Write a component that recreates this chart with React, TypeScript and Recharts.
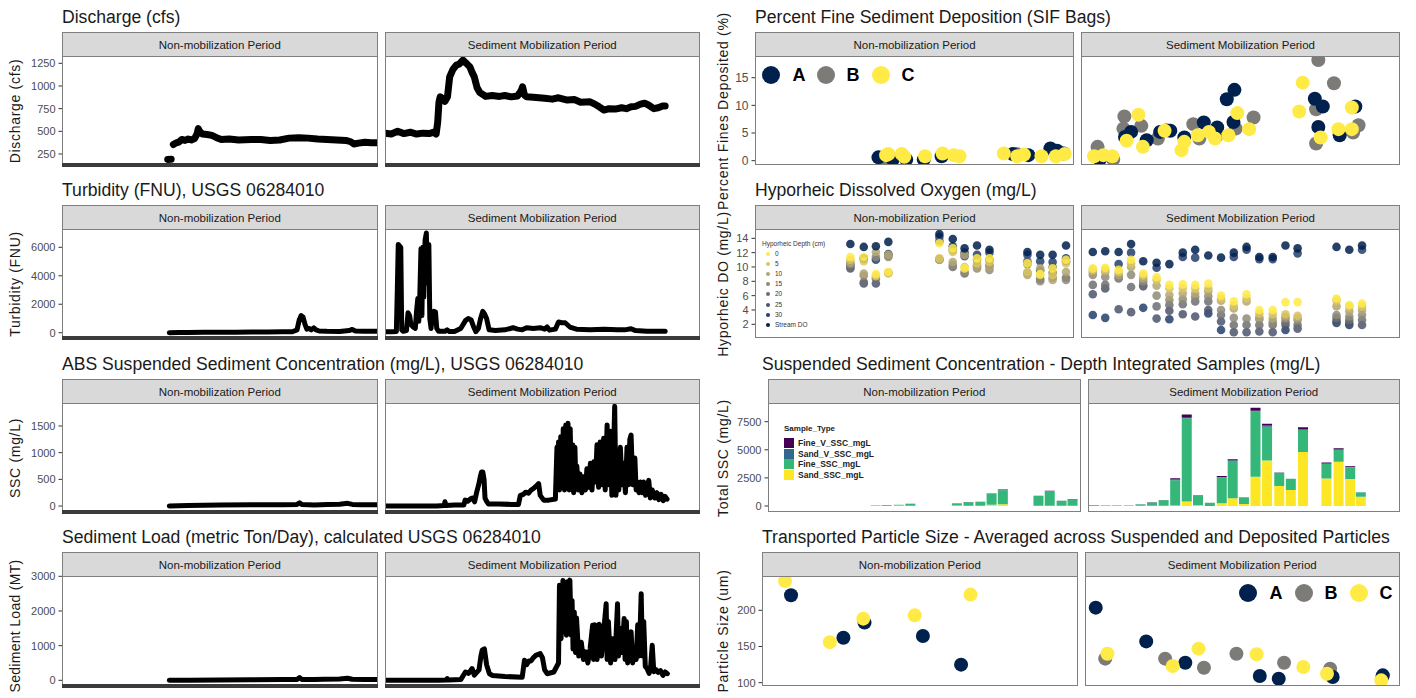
import type { ReactNode } from 'react';
import { ComposedChart, Line, Scatter, Bar, XAxis, YAxis } from 'recharts';

const FONT = '"Liberation Sans", Arial, Helvetica, sans-serif';
const NAVY = '#00204D';
const GREY = '#7C7B78';
const YELLOW = '#FFEA46';
const BORDER = '#7f7f7f';
const TICK = '#4d4d4d';

const facetLabels = ['Non-mobilization Period', 'Sediment Mobilization Period'];
const siteLabels = ['A', 'B', 'C'];
const siteColors = [NAVY, GREY, YELLOW];

// x = % of the way through each period, y = value

// Discharge (cfs)
const dischargeNonEarly = [[33.5, 190], [34.6, 192]];
const dischargeNon = [
  [35.3, 355], [36.0, 370], [37.0, 380], [38, 410], [39, 400], [40, 415], [41, 405], [42, 420], [42.8, 470],
  [43.2, 530], [43.6, 500], [44.5, 470], [46, 465], [47.5, 455], [49, 430], [50.5, 410], [53, 415], [56, 405],
  [60, 410], [63, 410], [66, 400], [69, 405], [72, 425], [75, 430], [78, 425], [81, 415], [84, 410], [87, 405],
  [90, 400], [91.5, 385], [92.5, 360], [94, 370], [96, 380], [98, 375], [100, 375],
];
const dischargeMob = [
  [0, 480], [2, 470], [4, 500], [6, 475], [8, 490], [10, 470], [12, 480], [14, 475], [15.5, 490], [16.2, 470],
  [16.7, 600], [17.1, 820], [17.5, 880], [18.3, 860], [19, 830], [19.8, 880], [20.5, 1100], [21.5, 1180],
  [22.6, 1230], [23.5, 1240], [24.7, 1285], [25.8, 1250], [26.9, 1210], [27.6, 1150], [28.3, 1100], [29.2, 980],
  [30, 930], [31.9, 885], [34, 895], [36.3, 885], [38, 895], [40, 880], [42, 890], [43.2, 950], [43.6, 990],
  [44.2, 900], [44.9, 880], [47, 875], [50.6, 865], [53, 855], [55, 870], [57.8, 845], [60, 850], [62, 820],
  [65, 825], [66.5, 800], [67.9, 770], [69.4, 735], [71, 750], [73, 745], [75, 760], [76.5, 750], [78, 770],
  [79.4, 775], [81, 800], [82.3, 810], [83.5, 790], [85.2, 750], [86.6, 760], [88, 780], [88.8, 780],
];

// Turbidity (FNU)
const turbNon = [
  [34, 0], [37, 10], [40, 20], [45, 30], [50, 35], [55, 40], [60, 50], [65, 50], [70, 60], [73, 70], [74.5, 200],
  [75.2, 900], [75.8, 1200], [76.4, 1100], [77, 600], [77.6, 250], [78.3, 300], [79, 200], [79.8, 340],
  [80.5, 200], [81.5, 120], [84, 100], [88, 90], [91, 150], [92, 230], [93, 120], [96, 110], [100, 100],
];
const turbMob = [
  [0, 60], [2, 60], [3.6, 80], [3.9, 3000], [4.2, 6200], [4.6, 6100], [5.0, 6000], [5.3, 200], [5.8, 100],
  [6.8, 150], [7.3, 1400], [7.8, 1200], [8.2, 600], [8.9, 400], [9.6, 300], [10.0, 1500], [10.4, 2400],
  [10.7, 800], [11.0, 2300], [11.4, 5900], [11.7, 1200], [12.0, 6000], [12.3, 2500], [12.7, 6500], [13.1, 7000],
  [13.5, 3500], [13.9, 6200], [14.2, 1000], [14.6, 300], [15.0, 1300], [15.5, 1500], [16.0, 1450], [16.4, 300],
  [17.0, 100], [19.0, 100], [19.7, 200], [20.4, 80], [22, 80], [24, 300], [25.5, 850], [26.4, 1000],
  [27.3, 900], [28.1, 400], [28.8, 80], [29.6, 300], [30.3, 1000], [31.0, 1500], [31.6, 1300], [32.2, 1000],
  [33.0, 200], [35, 150], [38, 200], [40.6, 350], [42, 250], [43.5, 200], [44.9, 350], [47, 300], [49.2, 350],
  [50.6, 250], [51.4, 400], [52.1, 180], [54, 250], [55, 750], [56, 700], [57.1, 700], [58.6, 400], [60.7, 250],
  [65, 200], [69.4, 250], [73.7, 200], [76, 200], [78, 280], [79.4, 150], [83, 100], [88.8, 100],
];

// ABS SSC (mg/L)
const sscNon = [
  [34, 0], [40, 10], [50, 20], [60, 25], [70, 25], [74.5, 30], [75.3, 60], [76, 30], [80, 20], [84, 30],
  [88, 35], [90.5, 50], [92, 30], [95, 25], [100, 25],
];
const sscMob = [
  [0, 0], [10, 0], [16.4, 0], [18.8, 10], [19.0, 80], [19.3, 10], [22, 20], [25.0, 20], [25.4, 110], [26.2, 90],
  [27.0, 130], [27.7, 150], [28.4, 80], [29.1, 270], [29.7, 400], [30.2, 550], [30.6, 640], [31.0, 640],
  [31.4, 500], [31.7, 150], [32.3, 80], [32.8, 40], [36, 40], [40, 30], [42.3, 30], [42.9, 200], [43.9, 220],
  [44.6, 260], [45.5, 240], [46.3, 300], [47.1, 330], [48.0, 380], [48.7, 420], [49.2, 200], [50.3, 110],
  [51.9, 110], [54.0, 130], [54.5, 1100], [54.8, 400], [55.0, 1200], [55.3, 300], [55.7, 1300], [56.1, 350],
  [56.5, 1450], [56.9, 300], [57.3, 1520], [57.7, 400], [58.0, 1550], [58.4, 300], [58.7, 1450], [59.1, 350],
  [59.5, 1150], [59.8, 250], [60.2, 1100], [60.5, 350], [60.8, 750], [61.3, 300], [61.8, 600], [62.4, 250],
  [63.0, 550], [63.5, 300], [64.0, 700], [64.6, 350], [65.1, 800], [65.6, 300], [66.2, 830], [66.7, 450],
  [67.2, 1150], [67.7, 350], [68.2, 1200], [68.8, 400], [69.3, 1270], [69.8, 300], [70.4, 1520], [70.9, 400],
  [71.4, 1400], [71.9, 200], [72.4, 900], [72.8, 1870], [73.2, 200], [73.6, 700], [74.1, 300], [74.6, 1100],
  [75.1, 400], [75.6, 800], [76.2, 250], [76.7, 1100], [77.2, 400], [77.6, 1250], [78.0, 1330], [78.5, 400],
  [79.2, 900], [79.6, 300], [79.9, 450], [80.5, 250], [81.0, 450], [81.5, 250], [82.0, 450], [82.6, 200],
  [83.1, 350], [83.6, 480], [84.1, 150], [84.7, 300], [85.5, 150], [86.2, 250], [86.8, 120], [87.5, 220],
  [88.2, 100], [88.8, 180], [89.4, 130],
];

// Sediment load (metric ton/day)
const loadNon = [
  [34, 0], [40, 5], [50, 10], [60, 15], [70, 20], [74.5, 25], [75.3, 80], [76, 25], [80, 20], [83, 30],
  [88, 35], [90.5, 60], [92, 30], [96, 25], [100, 25],
];
const loadMob = [
  [0, 0], [10, 0], [16.8, 0], [19.5, 10], [19.7, 50], [20, 10], [24, 20], [25.5, 240], [26.5, 200], [27.6, 340],
  [28.3, 150], [29.8, 300], [30.4, 700], [30.8, 870], [31.5, 910], [32.2, 450], [33.1, 190], [34.1, 140],
  [38, 110], [43.5, 90], [44.2, 580], [44.9, 450], [45.6, 560], [46.3, 560], [47.0, 650], [47.8, 720],
  [49.2, 770], [49.9, 650], [50.6, 300], [51.4, 190], [53.5, 240], [55.0, 500], [55.3, 2740], [55.8, 1200],
  [56.4, 2880], [56.8, 1400], [57.1, 2600], [57.5, 1300], [57.8, 2840], [58.2, 1500], [58.6, 2890], [59.0, 1300],
  [59.3, 2300], [59.6, 900], [60.0, 1970], [60.4, 800], [60.7, 1800], [61.4, 700], [62.2, 1100], [62.9, 600],
  [63.6, 820], [64.3, 500], [65.0, 900], [65.8, 1590], [66.1, 600], [66.5, 1600], [67.2, 600], [67.9, 1620],
  [68.6, 700], [69.4, 1500], [70.1, 2210], [70.4, 600], [70.8, 1700], [71.5, 500], [72.2, 1200], [72.9, 600],
  [73.7, 2210], [74.0, 700], [74.4, 1500], [75.1, 800], [75.8, 1780], [76.1, 600], [76.5, 1700], [76.9, 500],
  [77.3, 1200], [78.0, 1400], [78.5, 500], [79.1, 900], [79.6, 600], [80.1, 1600], [80.6, 700], [81.2, 2500],
  [81.6, 700], [82.0, 1700], [82.5, 400], [83.0, 350], [83.7, 200], [84.2, 400], [84.7, 1010], [85.2, 250],
  [86.0, 300], [86.6, 230], [87.3, 280], [88.1, 140], [88.8, 240], [89.5, 190],
];

// Percent fines deposited (SIF bags), by site
const finesNonA = [[38.7, 0.6], [43.2, 0.2], [47.4, 0.2], [52.9, 0.2], [58.5, 0.8], [80.8, 1.2], [85.7, 1.0], [92.6, 2.2], [94.7, 1.8], [96.8, 1.3]];
const finesNonB = [[40.5, 0.5], [82.0, 1.2], [95.5, 1.5]];
const finesNonC = [[41.1, 1.0], [41.8, 1.2], [46.0, 1.2], [46.8, 0.7], [53.3, 0.8], [58.8, 1.3], [62.3, 1.0], [64.1, 0.8], [78.0, 1.3], [82.2, 0.8], [84.3, 1.1], [89.8, 0.8], [94.3, 0.8], [97.1, 1.2]];
const finesMobA = [[5.9, 0.2], [13.8, 4.3], [15.7, 5.2], [20.6, 3.7], [24.8, 5.2], [28.0, 5.4], [32.4, 4.2], [38.5, 6.9], [42.2, 4.3], [42.7, 6.0], [45.7, 11.1], [48.1, 12.8], [47.8, 7.0], [73.3, 11.2], [75.8, 9.8], [74.4, 6.1], [81.1, 4.6], [86.0, 9.8]];
const finesMobB = [[5.2, 2.5], [5.2, 1.6], [10.1, 0.2], [13.6, 8.0], [13.3, 5.8], [18.9, 6.3], [24.1, 4.0], [26.9, 5.5], [35.2, 6.6], [37.1, 4.0], [48.5, 5.8], [54.1, 7.8], [74.4, 18.2], [73.7, 3.1], [73.7, 9.3], [79.3, 14.0], [85.3, 5.1], [87.0, 6.4]];
const finesMobC = [[4.1, 0.8], [7.0, 1.0], [9.8, 0.8], [14.3, 3.6], [18.0, 8.3], [19.4, 2.5], [26.2, 5.4], [31.5, 1.9], [32.4, 3.4], [36.6, 4.6], [40.1, 5.2], [42.0, 4.0], [46.2, 4.6], [49.0, 8.6], [52.7, 5.7], [68.4, 8.9], [69.5, 14.1], [75.1, 4.2], [80.7, 5.7], [84.9, 5.7], [84.9, 9.6]];

// Hyporheic DO (mg/L), by depth
const depthLabels = ['0', '5', '10', '15', '20', '25', '30', 'Stream DO'];
const depthColors = ['#FFEA46', '#D9C561', '#B2A672', '#8E8A79', '#6C6E72', '#4C546C', '#233E6C', '#00204D'];
const doNonT = [29.9, 34.1, 37.9, 41.8, 57.8, 62.0, 65.7, 69.6, 73.5, 85.4, 89.4, 93.3, 97.5];
const doNon0 = [11.4, 11.4, 9.0, 9.3, 13.3, 12.6, 9.8, 11.2, 11.2, 10.5, 9.0, 9.8, 11.0];
const doNon5 = [11.0, 10.8, 8.7, 9.1, 11.2, 12.1, 10.0, 10.5, 10.7, 9.3, 8.9, 8.9, 10.5];
const doNon10 = [10.6, 9.1, 12.1, 11.7, 11.0, 10.7, 11.7, 10.0, 10.0, 8.9, 9.8, 8.2, 9.3];
const doNon15 = [10.4, 8.8, 11.4, 11.4, 11.1, 10.3, 9.3, 9.8, 9.6, 9.2, 8.0, 8.5, 8.2];
const doNon20 = [10.0, 7.9, 8.4, 9.2, 11.0, 10.0, 9.1, 10.2, 10.2, 10.4, 8.3, 9.2, 8.5];
const doNon25 = [9.8, 7.7, 7.7, 11.6, 13.6, 12.4, 11.5, 11.0, 11.0, 10.8, 9.5, 10.0, 10.8];
const doNon30 = [10.3, 11.2, 11.0, 11.8, 14.2, 12.9, 12.0, 11.7, 12.0, 11.7, 10.8, 10.7, 11.2];
const doNonStream = [13.2, 12.8, 12.9, 13.5, 14.6, 13.9, 12.6, 13.0, 12.4, 12.1, 11.7, 11.7, 13.0];
const doMobT = [3.7, 7.6, 11.8, 15.7, 19.5, 23.7, 27.7, 31.9, 35.8, 39.9, 43.9, 47.9, 51.9, 55.9, 60.1, 64.1, 67.9, 80.1, 84.1, 88.1];
const doMob0 = [9.8, 9.9, 9.6, 11.0, 9.1, 8.6, 7.5, 7.6, 7.5, 7.7, 6.0, 5.2, 6.2, 4.0, 4.0, 5.1, 5.1, 5.6, 4.7, 4.9];
const doMob5 = [9.6, 9.6, 9.3, 10.5, 8.8, 8.2, 7.0, 7.0, 7.0, 7.0, 5.6, 4.6, 5.6, 3.5, 3.4, 3.4, 3.2, 5.3, 4.5, 4.5];
const doMob10 = [9.3, 9.3, 8.9, 10.0, 8.4, 7.4, 6.1, 6.3, 6.3, 6.6, 5.3, 4.2, 5.2, 3.0, 2.8, 3.1, 2.9, 4.5, 3.8, 4.0];
const doMob15 = [8.9, 8.6, 8.6, 8.9, 8.0, 6.0, 5.4, 5.5, 5.8, 5.9, 4.0, 2.9, 2.8, 2.7, 2.3, 2.8, 2.6, 3.3, 3.1, 3.3];
const doMob20 = [7.5, 7.5, 8.4, 7.2, 7.5, 4.5, 4.7, 4.8, 5.2, 5.2, 3.3, 1.9, 1.9, 1.9, 1.9, 2.3, 1.9, 2.9, 2.6, 2.6];
const doMob25 = [6.2, 7.0, 4.1, 3.7, 7.3, 2.8, 3.9, 3.4, 3.1, 4.0, 2.4, 0.9, 0.9, 1.0, 0.9, 1.9, 1.4, 2.5, 2.2, 1.9];
const doMob30 = [3.3, 2.9, 10.4, 12.0, 4.3, 9.9, 2.7, 11.4, 11.3, 3.5, 1.2, 11.4, 12.4, 11.1, 11.1, 1.2, 11.9, 2.2, 1.9, 12.4];
const doMobStream = [12.1, 12.2, 12.1, 13.2, 10.8, 10.6, 10.4, 12.0, 12.4, 11.6, 11.3, 12.0, 12.8, 11.4, 11.4, 13.0, 12.6, 12.8, 12.4, 13.0];

// Depth-integrated SSC (mg/L), stacked by sample type
const sampleTypes = ['Fine_V_SSC_mgL', 'Sand_V_SSC_mgL', 'Fine_SSC_mgL', 'Sand_SSC_mgL'];
const sampleColors = ['#440154', '#31688E', '#35B779', '#FDE725'];
const dintNonT = [34.6, 38.1, 42.0, 45.7, 60.6, 64.3, 68.1, 71.7, 75.3, 86.7, 90.3, 94.1, 97.6];
const sandNon = [0, 0, 40, 30, 40, 30, 30, 120, 150, 30, 30, 20, 20];
const fineNon = [40, 30, 60, 150, 190, 300, 330, 1000, 1250, 860, 1300, 430, 580];
const sandVNon = [10, 30, 0, 10, 5, 25, 10, 5, 20, 15, 15, 10, 10];
const fineVNon = [0, 0, 0, 20, 5, 5, 10, 10, 50, 10, 20, 10, 10];
const dintMobT = [2.0, 5.7, 9.3, 13.1, 16.9, 20.6, 24.3, 28.0, 31.7, 35.3, 39.1, 42.9, 46.4, 50.0, 53.7, 57.4, 61.3, 65.0, 68.9, 76.4, 80.3, 84.0, 87.4];
const sandMob = [0, 0, 0, 0, 30, 20, 20, 50, 400, 60, 0, 240, 680, 180, 2600, 4050, 1780, 1420, 4800, 2450, 3940, 2400, 830];
const fineMob = [30, 30, 30, 40, 110, 290, 500, 2250, 7400, 900, 280, 2300, 3330, 590, 5800, 3000, 1170, 1000, 1960, 1280, 1040, 1040, 380];
const sandVMob = [30, 5, 5, 5, 5, 10, 10, 60, 50, 10, 10, 40, 60, 10, 80, 160, 10, 10, 60, 50, 50, 50, 10];
const fineVMob = [0, 0, 0, 0, 5, 5, 5, 100, 280, 10, 5, 80, 90, 5, 270, 100, 10, 5, 180, 100, 100, 70, 5];

// Particle size (um), by site
const sizeNonA = [[9.2, 220.7], [25.8, 162], [32.5, 183], [51.0, 164.5], [63.1, 124.9]];
const sizeNonC = [[7.3, 240.5], [21.5, 156], [32.1, 188.5], [48.4, 193], [66.1, 221.7]];
const sizeMobA = [[3.4, 203.7], [19.4, 157], [31.8, 127.6], [55.4, 109.2], [61.4, 105.5], [78.5, 107.8], [94.4, 110.1]];
const sizeMobB = [[6.4, 133.2], [25.4, 133.2], [37.7, 120.7], [48.0, 140], [63.1, 127.6], [77.7, 119.4], [94.2, 108]];
const sizeMobC = [[7.1, 140], [27.8, 123], [36.0, 147], [54.4, 139.2], [69.2, 121.7], [76.7, 112.4], [93.9, 103.2]];

const pts = (a: number[][]) => a.map(([x, y]) => ({ x, y }));
const zip = (t: number[], v: number[]) => t.map((x, i) => ({ x, y: v[i] }));

const doNonSeries = [doNon0, doNon5, doNon10, doNon15, doNon20, doNon25, doNon30, doNonStream];
const doMobSeries = [doMob0, doMob5, doMob10, doMob15, doMob20, doMob25, doMob30, doMobStream];

const dintRows = (t: number[], sand: number[], fine: number[], sandV: number[], fineV: number[]) =>
  t.map((x, i) => ({ x, sand: sand[i], fine: fine[i], sandV: sandV[i], fineV: fineV[i] }));

const ROWS = [
  { strip: 32, top: 56, bottom: 165 },
  { strip: 205, top: 229, bottom: 338 },
  { strip: 379, top: 403, bottom: 512 },
  { strip: 552, top: 576, bottom: 686 },
];
const LEFT_COLS = [[62, 377.5], [384.5, 700]];

const dot = (r: number, fill: string, opacity = 1) => (p: any) => (
  <circle cx={p.cx} cy={p.cy} r={r} fill={fill} fillOpacity={opacity} />
);

const thickLine = (data: number[][], w = 5) => (
  <Line
    data={pts(data)}
    dataKey="y"
    type="linear"
    stroke="#000"
    strokeWidth={w}
    strokeLinejoin="round"
    strokeLinecap="round"
    dot={false}
    isAnimationActive={false}
  />
);

const scatter = (data: { x: number; y: number }[], r: number, fill: string, opacity = 1) => (
  <Scatter data={data} fill={fill} shape={dot(r, fill, opacity)} isAnimationActive={false} />
);

type PanelProps = {
  title: string;
  titleX: number;
  yTitle: string;
  yTitleX: number;
  yTitleShift?: number;
  yTitleSpacing?: number;
  row: number;
  cols: number[][];
  domain: [number, number];
  ticks: number[];
  yW: number;
  band?: boolean;
  tickFont?: number;
  data?: Record<string, number>[][];
  series: (i: number) => ReactNode;
};

function Panel(p: PanelProps) {
  const r = ROWS[p.row];
  const h = r.bottom - r.top;
  return (
    <>
      <div
        style={{
          position: 'absolute', left: p.titleX, top: r.strip - 25, fontSize: 17.6, lineHeight: '20px',
          color: '#1a1a1a', whiteSpace: 'nowrap',
        }}
      >
        {p.title}
      </div>
      <div
        style={{
          position: 'absolute', left: p.yTitleX, top: (r.top + r.bottom) / 2 + (p.yTitleShift ?? 0),
          transform: 'translate(-50%, -50%) rotate(-90deg)', fontSize: 14, letterSpacing: p.yTitleSpacing ?? 0.7,
          whiteSpace: 'nowrap', color: '#1a1a1a',
        }}
      >
        {p.yTitle}
      </div>
      {p.cols.map(([x0, x1], i) => {
        const w = x1 - x0;
        const yW = i === 0 ? p.yW : 0;
        return (
          <div key={i}>
            <div
              style={{
                position: 'absolute', left: x0, top: r.strip, width: w, height: r.top - r.strip + 1,
                background: '#D9D9D9', border: `1px solid ${BORDER}`, boxSizing: 'border-box',
                fontSize: 11.5, color: '#1a1a1a', display: 'flex', alignItems: 'center', justifyContent: 'center',
              }}
            >
              {facetLabels[i]}
            </div>
            <div style={{ position: 'absolute', left: x0 - yW, top: r.top }}>
              <ComposedChart
                width={w + yW}
                height={h}
                data={p.data ? p.data[i] : undefined}
                margin={{ top: 0, right: 0, bottom: 0, left: 0 }}
                style={{ overflow: 'visible' }}
              >
                <XAxis type="number" dataKey="x" domain={[0, 100]} hide allowDataOverflow />
                <YAxis
                  type="number"
                  dataKey="y"
                  domain={p.domain}
                  ticks={p.ticks}
                  allowDataOverflow
                  hide={i !== 0}
                  width={yW}
                  interval={0}
                  stroke={TICK}
                  tickSize={3.5}
                  tickMargin={3}
                  axisLine={false}
                  tickLine={{ stroke: '#333' }}
                  tick={{ fontSize: p.tickFont ?? 11, fill: TICK, fontFamily: FONT }}
                />
                {p.series(i)}
              </ComposedChart>
            </div>
            <div
              style={{
                position: 'absolute', left: x0, top: r.top, width: w, height: h,
                border: `1px solid ${BORDER}`, boxSizing: 'border-box', pointerEvents: 'none',
              }}
            />
            {p.band && (
              <div style={{ position: 'absolute', left: x0, top: r.bottom - 2, width: w, height: 4, background: '#3b3b3b' }} />
            )}
          </div>
        );
      })}
    </>
  );
}

function SiteLegend({ cx, tx, y }: { cx: number[]; tx: number[]; y: number }) {
  return (
    <>
      {siteLabels.map((s, i) => (
        <div key={s}>
          <div
            style={{
              position: 'absolute', left: cx[i] - 9, top: y - 9, width: 18, height: 18,
              borderRadius: '50%', background: siteColors[i],
            }}
          />
          <div
            style={{
              position: 'absolute', left: tx[i], top: y - 11, lineHeight: '22px', fontSize: 18,
              fontWeight: 'bold', transform: 'translateX(-50%)', color: '#000',
            }}
          >
            {s}
          </div>
        </div>
      ))}
    </>
  );
}

function DepthLegend() {
  return (
    <div style={{ position: 'absolute', left: 762, top: 240, fontSize: 6.5, color: '#333', lineHeight: '8px' }}>
      <div style={{ whiteSpace: 'nowrap' }}>Hyporheic Depth (cm)</div>
      {depthLabels.map((d, i) => (
        <div key={d} style={{ position: 'absolute', left: 0, top: 10 + i * 10.1, whiteSpace: 'nowrap' }}>
          <span
            style={{
              position: 'absolute', left: 4, top: 2, width: 4, height: 4, borderRadius: '50%',
              background: depthColors[i],
            }}
          />
          <span style={{ position: 'absolute', left: 13, top: 0 }}>{d}</span>
        </div>
      ))}
    </div>
  );
}

function SampleLegend() {
  return (
    <div style={{ position: 'absolute', left: 784, top: 424, fontSize: 8, fontWeight: 'bold', color: '#222' }}>
      <div style={{ whiteSpace: 'nowrap', lineHeight: '9px' }}>Sample_Type</div>
      {sampleTypes.map((s, i) => (
        <div key={s} style={{ position: 'absolute', left: 0, top: 14 + i * 10.5, whiteSpace: 'nowrap' }}>
          <span style={{ position: 'absolute', left: 0, top: 0, width: 10, height: 10, background: sampleColors[i] }} />
          <span style={{ position: 'absolute', left: 14, top: 0, lineHeight: '10px', fontSize: 8.5 }}>{s}</span>
        </div>
      ))}
    </div>
  );
}

export default function App() {
  return (
    <div
      style={{
        position: 'absolute', left: 0, top: 0, width: 1416, height: 698, background: '#fff',
        fontFamily: FONT, overflow: 'hidden',
      }}
    >
      <style>{'.recharts-surface { overflow: visible; } .recharts-wrapper { overflow: visible; }'}</style>
      <Panel
        title="Discharge (cfs)" titleX={62} yTitle="Discharge (cfs)" yTitleX={15} row={0} cols={LEFT_COLS}
        domain={[128.7, 1330.5]} ticks={[250, 500, 750, 1000, 1250]} yW={44} band
        series={(i) => (i === 0 ? <>{thickLine(dischargeNonEarly, 7)}{thickLine(dischargeNon, 7)}</> : thickLine(dischargeMob, 7))}
      />
      <Panel
        title="Turbidity (FNU), USGS 06284010" titleX={62} yTitle="Turbidity (FNU)" yTitleX={15} row={1} cols={LEFT_COLS}
        domain={[-372, 7286]} ticks={[0, 2000, 4000, 6000]} yW={44} band
        series={(i) => thickLine(i === 0 ? turbNon : turbMob)}
      />
      <Panel
        title="ABS Suspended Sediment Concentration (mg/L), USGS 06284010" titleX={62} yTitle="SSC (mg/L)" yTitleX={15}
        row={2} cols={LEFT_COLS} domain={[-112, 1931]} ticks={[0, 500, 1000, 1500]} yW={44} band
        series={(i) => thickLine(i === 0 ? sscNon : sscMob)}
      />
      <Panel
        title="Sediment Load (metric Ton/Day), calculated USGS 06284010" titleX={62} yTitle="Sediment Load (MT)" yTitleX={15}
        yTitleShift={-5} yTitleSpacing={0.3}
        row={3} cols={LEFT_COLS} domain={[-164, 3009]} ticks={[0, 1000, 2000, 3000]} yW={44} band
        series={(i) => thickLine(i === 0 ? loadNon : loadMob)}
      />

      <Panel
        title="Percent Fine Sediment Deposition (SIF Bags)" titleX={755} yTitle="Percent Fines Deposited (%)" yTitleX={723}
        row={0} cols={[[755, 1074], [1081, 1400]]} domain={[-0.78, 18.92]} ticks={[0, 5, 10, 15]} yW={30} tickFont={12}
        series={(i) => (
          <>
            {scatter(pts(i === 0 ? finesNonB : finesMobB), 7, GREY)}
            {scatter(pts(i === 0 ? finesNonA : finesMobA), 7, NAVY)}
            {scatter(pts(i === 0 ? finesNonC : finesMobC), 7, YELLOW)}
          </>
        )}
      />
      <Panel
        title="Hyporheic Dissolved Oxygen (mg/L)" titleX={755} yTitle="Hyporheic DO (mg/L)" yTitleX={723}
        row={1} cols={[[755, 1074], [1081, 1400]]} domain={[0.09, 15.3]} ticks={[2, 4, 6, 8, 10, 12, 14]} yW={30}
        series={(i) => (
          <>
            {[6, 5, 4, 3, 2, 1, 0, 7].map((k) => (
              <Scatter
                key={k}
                data={i === 0 ? zip(doNonT, doNonSeries[k]) : zip(doMobT, doMobSeries[k])}
                fill={depthColors[k]}
                shape={dot(4.3, depthColors[k], 0.85)}
                isAnimationActive={false}
              />
            ))}
          </>
        )}
      />
      <Panel
        title="Suspended Sediment Concentration - Depth Integrated Samples (mg/L)" titleX={762} yTitle="Total SSC (mg/L)"
        yTitleX={723} row={2} cols={[[768, 1080.5], [1087.5, 1400]]} domain={[-534, 9164]} ticks={[0, 2500, 5000, 7500]}
        yW={44}
        data={[dintRows(dintNonT, sandNon, fineNon, sandVNon, fineVNon), dintRows(dintMobT, sandMob, fineMob, sandVMob, fineVMob)]}
        series={() => (
          <>
            <Bar dataKey="sand" stackId="s" fill={sampleColors[3]} barSize={10} isAnimationActive={false} />
            <Bar dataKey="fine" stackId="s" fill={sampleColors[2]} barSize={10} isAnimationActive={false} />
            <Bar dataKey="sandV" stackId="s" fill={sampleColors[1]} barSize={10} isAnimationActive={false} />
            <Bar dataKey="fineV" stackId="s" fill={sampleColors[0]} barSize={10} isAnimationActive={false} />
          </>
        )}
      />
      <Panel
        title="Transported Particle Size - Averaged across Suspended and Deposited Particles" titleX={762}
        yTitle="Particle Size (um)" yTitleX={723} row={3} cols={[[762, 1077.5], [1084.5, 1400]]}
        domain={[95.4, 247.4]} ticks={[100, 150, 200]} yW={36}
        series={(i) =>
          i === 0 ? (
            <>
              {scatter(pts(sizeNonA), 7, NAVY)}
              {scatter(pts(sizeNonC), 7, YELLOW)}
            </>
          ) : (
            <>
              {scatter(pts(sizeMobB), 7, GREY)}
              {scatter(pts(sizeMobA), 7, NAVY)}
              {scatter(pts(sizeMobC), 7, YELLOW)}
            </>
          )
        }
      />

      <SiteLegend cx={[771, 826, 881]} tx={[799, 853, 908]} y={75} />
      <SiteLegend cx={[1248, 1304, 1359]} tx={[1276, 1331, 1386]} y={593} />
      <DepthLegend />
      <SampleLegend />
    </div>
  );
}
